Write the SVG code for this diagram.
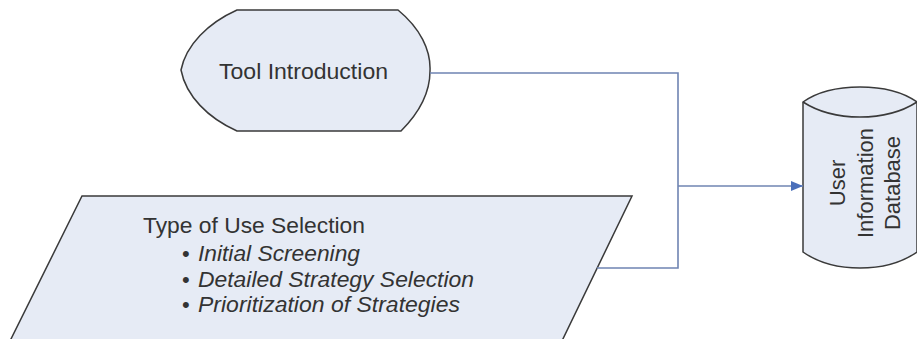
<svg xmlns="http://www.w3.org/2000/svg" width="917" height="339" viewBox="0 0 917 339">
  <defs>
    <marker id="arrow" markerWidth="12" markerHeight="10" refX="12" refY="5" orient="auto" markerUnits="userSpaceOnUse">
      <path d="M0,0 L12,5 L0,10 Z" fill="#4a6fba"/>
    </marker>
    <style>
      .shape { fill: #e6ebf5; stroke: #3a3a3a; stroke-width: 1.5; }
      .label { font-family: "Liberation Sans", Arial, sans-serif; font-size: 22px; fill: #333333; }
      .item { font-style: italic; }
      .wire { fill: none; stroke: #6f84b2; stroke-width: 1.6; }
    </style>
  </defs>

  <rect width="917" height="339" fill="#ffffff"/>

  <!-- Display shape -->
  <g id="tool-introduction">
    <path class="shape" d="M237,10 L398,10 C420,28 431,50 430,71 C430,94 418,114 401,131 L237,131 C208,118 186,96 181,70 C186,45 208,23 237,10 Z"/>
    <text class="label" x="219" y="79" textLength="169" lengthAdjust="spacingAndGlyphs">Tool Introduction</text>
  </g>

  <!-- Manual input parallelogram -->
  <g id="type-of-use-selection">
    <path class="shape" d="M82,196 L632,196 L560,345 L8,345 Z"/>
    <text class="label" x="143" y="233" textLength="222" lengthAdjust="spacingAndGlyphs">Type of Use Selection</text>
    <text class="label" x="182" y="261">•<tspan class="item" x="198" textLength="162" lengthAdjust="spacingAndGlyphs">Initial Screening</tspan></text>
    <text class="label" x="182" y="287">•<tspan class="item" x="198" textLength="276" lengthAdjust="spacingAndGlyphs">Detailed Strategy Selection</tspan></text>
    <text class="label" x="182" y="312">•<tspan class="item" x="198" textLength="262" lengthAdjust="spacingAndGlyphs">Prioritization of Strategies</tspan></text>
  </g>

  <!-- Database cylinder -->
  <g id="user-information-database">
    <path class="shape" d="M803,102 C820,90 840,87 860,87 C880,87 900,90 917,102 L917,252 C900,264 880,268 860,268 C840,268 820,264 803,252 Z"/>
    <path class="shape" style="fill:none" d="M803,102 C820,113 840,117 860,117 C880,117 900,113 917,102"/>
    <g transform="translate(860,183) rotate(-90)">
      <text class="label" x="0" y="-15" text-anchor="middle">User</text>
      <text class="label" x="0" y="13" text-anchor="middle">Information</text>
      <text class="label" x="0" y="40" text-anchor="middle">Database</text>
    </g>
  </g>

  <!-- Connectors -->
  <g id="connectors">
    <path class="wire" d="M430,73 L678,73 L678,268 L597,268"/>
    <path class="wire" d="M678,186 L803,186" marker-end="url(#arrow)"/>
  </g>
</svg>
